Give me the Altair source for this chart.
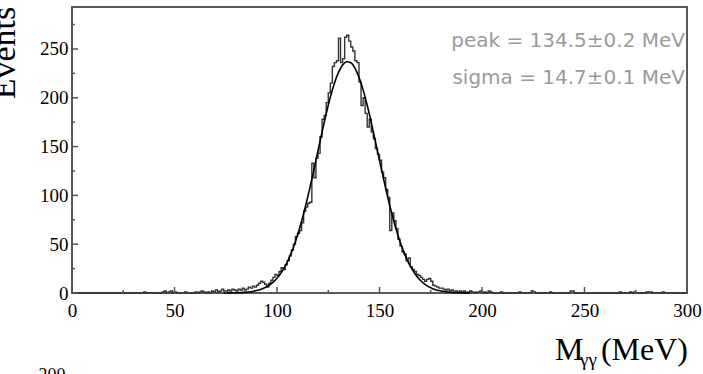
import altair as alt
import pandas as pd

# 1 MeV bins from 0 to 300 MeV (counts per bin)
counts = [
    0, 0, 0, 0, 0, 0, 0, 0, 0, 0,
    0, 0, 0, 0, 0, 0, 0, 0, 0, 0,
    0, 0, 0, 0, 0, 0, 0, 0, 0, 0,
    0, 0, 0, 0, 0, 1, 0, 0, 0, 0,
    0, 0, 0, 0, 1, 2, 0, 1, 2, 0,
    1, 0, 0, 0, 0, 1, 0, 0, 0, 0,
    1, 0, 1, 2, 1, 0, 1, 0, 2, 1,
    3, 1, 2, 4, 2, 1, 3, 2, 4, 3,
    2, 4, 3, 5, 3, 4, 6, 5, 7, 6,
    8, 10, 12, 11, 9, 6, 10, 13, 16, 19,
    18, 22, 26, 24, 29, 33, 38, 44, 50, 58,
    61, 64, 72, 84, 88, 92, 93, 133, 118, 138,
    143, 160, 178, 182, 195, 205, 215, 232, 236, 238,
    261, 236, 240, 262, 264, 258, 252, 248, 238, 236,
    216, 192, 200, 184, 170, 178, 165, 158, 148, 142,
    136, 124, 118, 106, 98, 64, 82, 74, 66, 55,
    48, 42, 40, 33, 36, 27, 24, 22, 19, 18,
    16, 14, 12, 14, 15, 12, 8, 7, 6, 5,
    5, 4, 3, 4, 2, 3, 2, 2, 1, 2,
    1, 2, 0, 1, 2, 1, 0, 1, 1, 2,
    0, 1, 0, 2, 1, 0, 0, 0, 0, 1,
    0, 0, 0, 0, 0, 0, 0, 0, 1, 0,
    0, 0, 0, 0, 2, 1, 0, 0, 0, 0,
    0, 0, 0, 1, 0, 0, 0, 0, 0, 0,
    0, 0, 0, 2, 2, 0, 0, 0, 0, 0,
    0, 0, 0, 0, 0, 0, 0, 0, 0, 0,
    0, 0, 0, 0, 0, 0, 0, 1, 0, 0,
    0, 0, 1, 0, 1, 0, 0, 0, 0, 0,
    1, 1, 1, 0, 0, 0, 0, 0, 1, 0,
    0, 0, 0, 0, 0, 0, 0, 0, 0, 0,
]
bin_edges = list(range(0, 301))

# Gaussian fit curve
fit_x = [74, 80, 84, 88, 92, 96, 98, 100, 102, 104, 106, 108, 110, 112, 114, 116,
         118, 120, 122, 124, 126, 128, 130, 132, 134, 136, 138, 140, 142, 144,
         146, 148, 150, 152, 154, 156, 158, 160, 162, 164, 166, 168, 170, 172,
         176, 180, 184, 188, 194]
fit_y = [0.05, 0.25, 0.65, 1.6, 3.6, 7.7, 10.9, 15.1, 20.6, 27.5, 36.2, 46.7, 59.1,
         73.5, 89.6, 107.4, 126.2, 145.7, 165.1, 183.6, 200.5, 214.9, 226.1, 233.6,
         236.9, 235.8, 230.4, 221.0, 208.1, 192.3, 174.5, 155.4, 135.9, 116.7, 98.3,
         81.3, 66.0, 52.6, 41.2, 31.6, 23.9, 17.7, 12.8, 9.1, 4.4, 2.0, 0.82, 0.31, 0.07]

x_major = [0, 50, 100, 150, 200, 250, 300]
x_minor = [25, 75, 125, 175, 225, 275]
y_major = [0, 50, 100, 150, 200, 250]
y_minor = [25, 75, 125, 175, 225, 275]

W, H = 615, 286
PL, PT = 72, 7

xs = alt.Scale(domain=[0, 300], nice=False, zero=False)
ys = alt.Scale(domain=[0, 293], nice=False, zero=True)

serif = "Liberation Serif"

x_axis = alt.Axis(
    values=x_major, title=None, ticks=False, domain=False, grid=False,
    labelFont=serif, labelFontSize=19, labelColor="black", labelPadding=8,
    labelFlush=False, format="d")
y_axis = alt.Axis(
    values=y_major, title=None, ticks=False, domain=False, grid=False,
    labelFont=serif, labelFontSize=19, labelColor="black", labelPadding=4,
    format="d")

hist_df = pd.DataFrame({"m": bin_edges, "n": counts + [counts[-1]]})
fit_df = pd.DataFrame({"m": fit_x, "n": fit_y})

hist = alt.Chart(hist_df).mark_line(
    interpolate="step-after", color="#333333", strokeWidth=1.4
).encode(
    x=alt.X("m:Q", scale=xs, axis=x_axis),
    y=alt.Y("n:Q", scale=ys, axis=y_axis),
)

fit = alt.Chart(fit_df).mark_line(
    interpolate="monotone", color="black", strokeWidth=1.6
).encode(
    x=alt.X("m:Q", scale=xs, axis=x_axis),
    y=alt.Y("n:Q", scale=ys, axis=y_axis),
)

def xticks(vals, length):
    return alt.Chart(pd.DataFrame({"m": vals})).mark_rule(
        color="#555", strokeWidth=1.5
    ).encode(
        x=alt.X("m:Q", scale=xs, axis=x_axis),
        y=alt.value(H), y2=alt.value(H - length),
    )

def yticks(vals, length):
    return alt.Chart(pd.DataFrame({"n": vals})).mark_rule(
        color="#555", strokeWidth=1.5
    ).encode(
        y=alt.Y("n:Q", scale=ys, axis=y_axis),
        x=alt.value(0), x2=alt.value(length),
    )

def label(text, x, y, size, align="left", baseline="alphabetic", font=serif,
          color="black", angle=0):
    kw = dict(text=text, align=align, baseline=baseline, font=font,
              fontSize=size, color=color)
    if angle:
        kw["angle"] = angle
    return alt.Chart(pd.DataFrame({"t": [text]})).mark_text(**kw).encode(
        x=alt.value(x - PL), y=alt.value(y - PT)
    )

annot_font = "DejaVu Sans"
texts = [
    label("peak = 134.5\u00b10.2 MeV", 685, 47, 20, align="right",
          font=annot_font, color="#9a9a9a"),
    label("sigma = 14.7\u00b10.1 MeV", 685, 84, 20, align="right",
          font=annot_font, color="#9a9a9a"),
    label("Events", 15, 53, 34, align="center", angle=270),
    label("M", 555, 360, 32),
    label("\u03b3\u03b3", 580, 366, 19),
    label("(MeV)", 688, 360, 32, align="right"),
    label("200", 52, 381, 18, align="center"),
]

chart = alt.layer(
    hist, fit,
    xticks(x_major, 6), xticks(x_minor, 3),
    yticks(y_major, 6), yticks(y_minor, 3),
    *texts,
).properties(
    width=W, height=H,
    autosize=alt.AutoSizeParams(type="none"),
    padding={"left": PL, "top": PT, "right": 703 - PL - W, "bottom": 374 - PT - H},
    background="white",
).configure_view(
    stroke="#5a5a5a", strokeWidth=2
)

chart.save("out.html", embed_options={"renderer": "svg", "actions": False})
